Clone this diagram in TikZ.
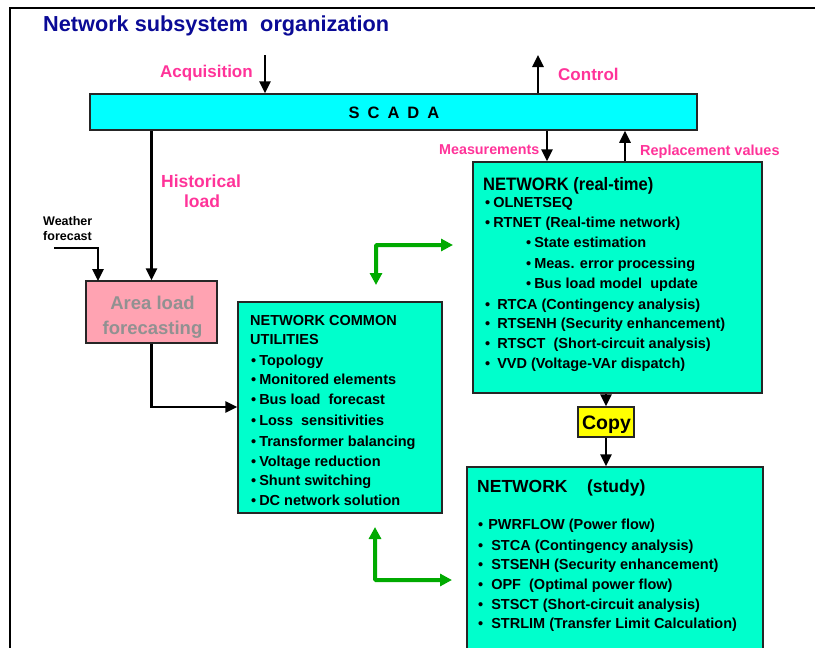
\documentclass[tikz,border=0pt]{standalone}
\usepackage{fontspec}
\setmainfont{Liberation Sans}
\newfontfamily\narrowsans[FakeStretch=0.92]{Liberation Sans}
\usetikzlibrary{arrows.meta}
\definecolor{navyt}{RGB}{10,10,150}
\definecolor{pinkt}{RGB}{255,51,153}
\definecolor{scadac}{RGB}{0,255,255}
\definecolor{aqua}{RGB}{0,255,204}
\definecolor{pinkbox}{RGB}{255,163,178}
\definecolor{grayt}{RGB}{145,145,145}
\definecolor{greenarr}{RGB}{0,170,0}
\definecolor{copyc}{RGB}{255,255,0}
\newcommand{\fsz}[1]{\fontsize{#1}{#1}\selectfont\bfseries}
\newcommand{\bl}[1]{\textbullet\hspace{#1pt}}
\tikzset{
  box/.style={draw=black!85, line width=1.5pt, inner sep=0pt},
  txt/.style={anchor=base west, inner sep=0pt, font=\fsz{14.5}},
  lbl/.style={inner sep=0pt, text=pinkt},
  arr/.style={line width=2.5pt, -{Triangle[length=12pt,width=11pt]}},
  garr/.style={line width=4pt, draw=greenarr, {Triangle[length=12pt,width=12pt]}-{Triangle[length=12pt,width=12pt]}, rounded corners=1pt}
}
\begin{document}
\begin{tikzpicture}[x=1pt,y=-1pt]
\useasboundingbox (0,0) rectangle (815,648);
\begin{scope}
\clip (0,0) rectangle (815,648);
% frame
\draw[line width=2pt] (10,660) -- (10,8) -- (830,8);
% title
\node[anchor=base west, inner sep=0pt, text=navyt, font=\fsz{21.7}] (title) at (43,31) {Network subsystem\ \ organization};
% SCADA
\node[box, fill=scadac, minimum width=607pt, minimum height=36pt] (scada) at (393.5,112) {};
\node[inner sep=0pt, font=\fsz{16.5}] (scadat) at (394,113) {S\hspace{8pt}C\hspace{8pt}A\hspace{8pt}D\hspace{8pt}A};
% labels top
\node[lbl, anchor=base west, font=\fsz{17}] (acql) at (160,77) {Acquisition};
\coordinate (acq) at (265,55);
\draw[arr] (acq) -- (acq |- scada.north);
\node[lbl, anchor=base west, font=\fsz{17}] (ctll) at (558,80.5) {Control};
\coordinate (ctl) at (538,55);
\draw[arr] (ctl |- scada.north) -- (ctl);
% area load
\node[box, fill=pinkbox, minimum width=131pt, minimum height=62pt] (area) at (151.5,312) {};
\node[anchor=base, inner sep=0pt, text=grayt, font=\fsz{18.5}] (areat1) at (152.5,309) {Area load};
\node[anchor=base, inner sep=0pt, text=grayt, font=\fsz{18.5}] (areat2) at (152.5,334) {forecasting};
\draw[arr] (scada.south -| area.north) -- (area.north);
\node[lbl, anchor=base, font=\fsz{17.5}] (hist1) at (201,187) {Historical};
\node[lbl, anchor=base, font=\fsz{17.5}] (hist2) at (202,207) {load};
% weather
\node[anchor=base west, inner sep=0pt, font=\fsz{12.5}] (weather1) at (43,225) {Weather};
\node[anchor=base west, inner sep=0pt, font=\fsz{12.5}] (weather2) at (43,240.5) {forecast};
\coordinate (wf) at (54,248);
\coordinate (wt) at (98,281);
\draw[arr] (wf) -| (wt);
% NCU
\node[box, fill=aqua, minimum width=204pt, minimum height=211pt] (ncu) at (340,407.5) {};
\node[txt] (n1) at (250,325) {NETWORK COMMON};
\node[txt] (n2) at (250,344.5) {UTILITIES};
\node[txt] (n3) at (251,365) {\bl{3}Topology};
\node[txt] (n4) at (251,384.5) {\bl{3}Monitored elements};
\node[txt] (n5) at (251,404.5) {\bl{3}Bus load\ \ forecast};
\node[txt] (n6) at (251,425.5) {\bl{3}Loss\ \ sensitivities};
\node[txt] (n7) at (251,446) {\bl{3}Transformer balancing};
\node[txt] (n8) at (251,466) {\bl{3}Voltage reduction};
\node[txt] (n9) at (251,485.5) {\bl{3}Shunt switching};
\node[txt] (n10) at (251,505.5) {\bl{3}DC network solution};
\coordinate (an) at (0,407);
\draw[arr] (area.south) |- (ncu.west |- an);
% NRT
\node[box, fill=aqua, minimum width=289pt, minimum height=231pt] (nrt) at (617.5,277.5) {};
\node[txt, font=\narrowsans\fsz{18}] (r0) at (483,190) {NETWORK (real-time)};
\node[txt] (r1) at (485,207) {\bl{3}OLNETSEQ};
\node[txt] (r2) at (485,227) {\bl{3}RTNET (Real-time network)};
\node[txt] (r3) at (526,247) {\bl{3}State estimation};
\node[txt] (r4) at (526,268) {\bl{3}Meas. error processing};
\node[txt] (r5) at (526,288) {\bl{3}Bus load model\ \ update};
\node[txt] (r6) at (485,309) {\bl{7}RTCA (Contingency analysis)};
\node[txt] (r7) at (485,328) {\bl{7}RTSENH (Security enhancement)};
\node[txt] (r8) at (485,348) {\bl{7}RTSCT\ \ (Short-circuit analysis)};
\node[txt] (r9) at (485,368) {\bl{7}VVD (Voltage-VAr dispatch)};
% measurements / replacement
\node[lbl, anchor=base west, font=\fsz{14.3}] (meas) at (439,154) {Measurements};
\node[lbl, anchor=base west, font=\fsz{14.5}] (repl) at (640,155.5) {Replacement values};
\coordinate (mx) at (547,0);
\coordinate (rx) at (625,0);
\draw[arr] (scada.south -| mx) -- (nrt.north -| mx);
\draw[arr] (nrt.north -| rx) -- (scada.south -| rx);
% copy
\node[box, fill=copyc, minimum width=56pt, minimum height=30pt] (copy) at (606,422) {};
\node[anchor=base, inner sep=0pt, font=\fsz{19.5}] (copyt) at (606.5,429) {Copy};
\draw[arr] (nrt.south -| copy.north) -- (copy.north);
% study
\node[box, fill=aqua, minimum width=296pt, minimum height=213pt] (study) at (615,573.5) {};
\draw[arr] (copy.south) -- (copy.south |- study.north);
\node[txt, font=\fsz{17.5}] (s0) at (477,492) {NETWORK\ \ \ \ (study)};
\node[txt] (s1) at (478,529) {\bl{5}PWRFLOW (Power flow)};
\node[txt] (s2) at (478,550) {\bl{8}STCA (Contingency analysis)};
\node[txt] (s3) at (478,569) {\bl{8}STSENH (Security enhancement)};
\node[txt] (s4) at (478,589) {\bl{8}OPF\ \ (Optimal power flow)};
\node[txt] (s5) at (478,609) {\bl{8}STSCT (Short-circuit analysis)};
\node[txt] (s6) at (478,628) {\bl{8}STRLIM (Transfer Limit Calculation)};
% green arrows
\coordinate (g1a) at (376,285);
\coordinate (g1b) at (453,245);
\draw[garr] (g1a) |- (g1b);
\coordinate (g2a) at (375,527);
\coordinate (g2b) at (452,580);
\draw[garr] (g2a) |- (g2b);
\end{scope}
\end{tikzpicture}
\end{document}
